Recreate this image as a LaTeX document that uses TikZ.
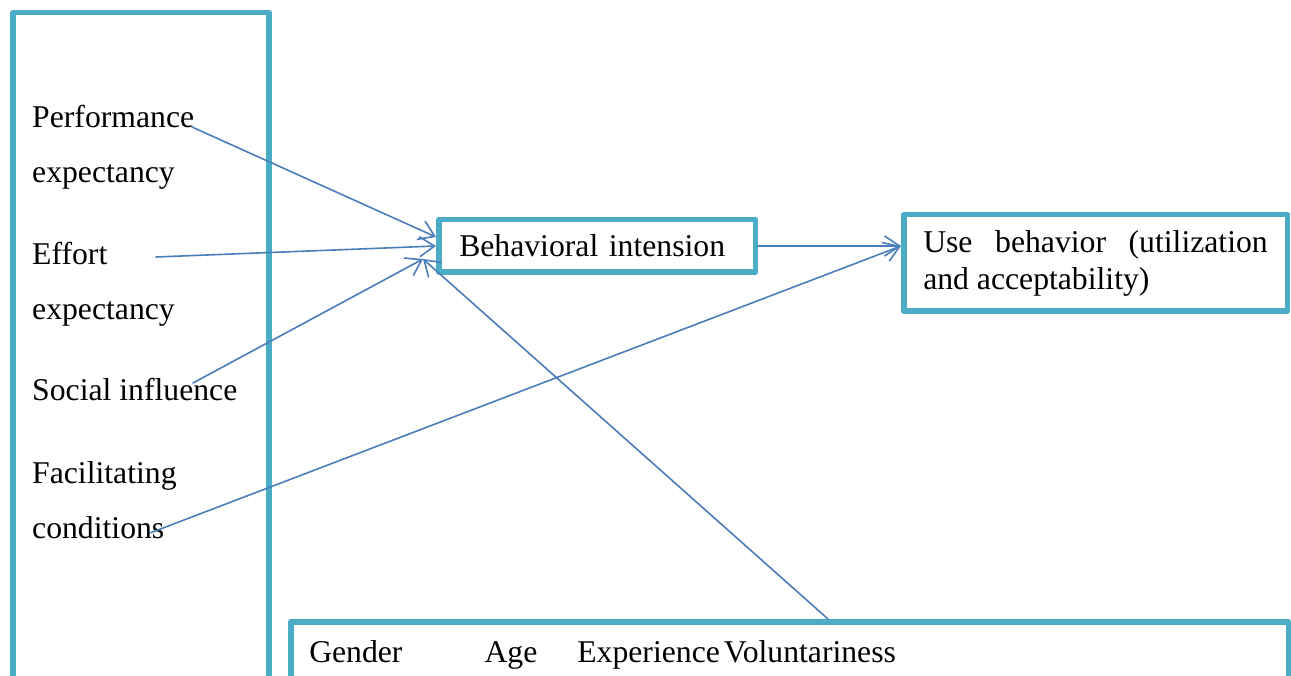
\documentclass[tikz,border=0pt]{standalone}
\usepackage{fontspec}
\setmainfont{Liberation Serif}
\usetikzlibrary{arrows.meta}
\definecolor{boxblue}{HTML}{4BACC6}
\definecolor{linkblue}{HTML}{4A7EBB}

\begin{document}
\begin{tikzpicture}[line cap=round,line join=round,x=1pt,y=-1pt,
  >={Straight Barb[length=15pt,width=20pt]},
  box/.style={draw=boxblue,line width=5.5pt,anchor=north west,fill=white},
  con/.style={->,color=linkblue,line width=1.6pt},
  txt/.style={anchor=base west,inner sep=0pt},
  font=\fontsize{31.7}{37}\selectfont]
\useasboundingbox (0,0) rectangle (1291,676);
\clip (0,0) rectangle (1291,676);
\node[box,minimum width=256pt,minimum height=700pt] (factors) at (10,10) {};
\node[txt] (perf) at (32,128) {Performance};
\node[txt] (perf2) at (32,183) {expectancy};
\node[txt] (eff) at (32,265) {Effort};
\node[txt] (eff2) at (32,320) {expectancy};
\node[txt] (soc) at (32,400) {Social influence};
\node[txt] (fac) at (32,483) {Facilitating};
\node[txt] (fac2) at (32,538) {conditions};

\node[box,minimum width=316.5pt,minimum height=52.5pt,inner xsep=20.5pt,text width=275.5pt,align=left] (bi) at (436,217) {Behavioral intension};
\node[box,minimum width=383.5pt,minimum height=96.5pt,inner xsep=19.5pt,text width=344.5pt,align=justify] (use) at (901,212) {Use behavior (utilization and acceptability)};
\node[box,inner xsep=18.5pt,inner ysep=19pt,text height=21.6pt,text depth=30pt,text width=960.5pt,align=left] (mods) at (288,619) {Gender\hspace{82pt}Age\hspace{40pt}Experience\hspace{4pt}Voluntariness};

\coordinate (perfend) at (192,127);
\coordinate (effend) at (156,257);
\coordinate (socend) at (193,383);
\coordinate (facend) at (150,533);
\coordinate (bicorner) at (423,259);
\coordinate (modsend) at (828,619);
\coordinate (usein) at (bi.east -| use.west);

\draw[con] (perfend) -- ([yshift=9pt]bi.west);
\draw[con] (effend) -- (bi.west);
\draw[con] (socend) -- (bicorner);
\draw[con] (modsend) -- (bicorner);
\draw[con] (bi.east) -- (usein);
\draw[con] (facend) -- (usein);
\end{tikzpicture}
\end{document}
